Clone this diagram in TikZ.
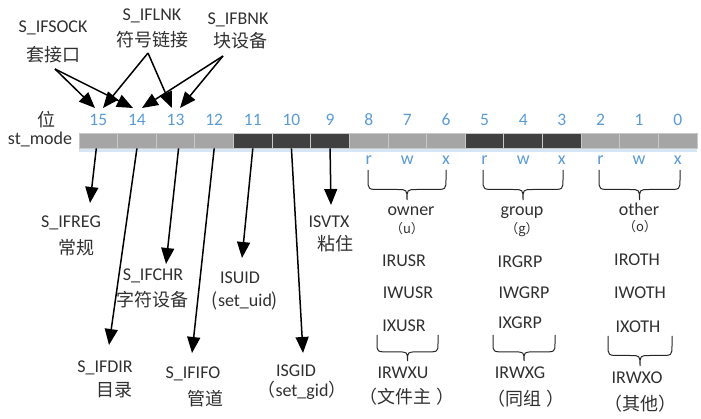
\documentclass[tikz,border=0pt]{standalone}
\usepackage{fontspec}
\setmainfont{Carlito}
\newfontfamily\cjk{Noto Sans CJK SC}
\usetikzlibrary{arrows.meta,calc}
\definecolor{txt}{HTML}{303030}
\definecolor{numblue}{HTML}{5B9BD5}
\definecolor{cellgray}{HTML}{A5A5A5}
\definecolor{celldark}{HTML}{404040}
\definecolor{cellline}{HTML}{C8C8C8}
\definecolor{strip}{HTML}{D6E6F5}
\newcommand\permbrace[4]{%
  \pgfmathsetmacro\pbA{#3+0.3*(#4-#3)}%
  \pgfmathsetmacro\pbB{#3+0.65*(#4-#3)}%
  \pgfmathsetmacro\pbM{(#1+#2)/2}%
  \draw[brc] (#1,#3) -- (#1,\pbA) .. controls (#1,\pbB) .. ({#1+12},\pbB) -- ({\pbM-10},\pbB) .. controls (\pbM,\pbB) .. (\pbM,#4) .. controls (\pbM,\pbB) .. ({\pbM+10},\pbB) -- ({#2-12},\pbB) .. controls (#2,\pbB) .. (#2,\pbA) -- (#2,#3);%
}
\begin{document}
\begin{tikzpicture}[x=1pt,y=-1pt,
  lbl/.style={anchor=base, inner sep=0pt, font=\fontsize{18}{18}\selectfont, text=txt},
  zh/.style={lbl, font=\fontsize{18}{18}\selectfont\cjk},
  smallzh/.style={lbl, font=\fontsize{13}{13}\selectfont\cjk},
  num/.style={lbl, text=numblue, font=\fontsize{17.5}{17.5}\selectfont},
  cellbox/.style={draw=cellline, line width=0.8pt, minimum width=38.625pt, minimum height=15pt, inner sep=0pt},
  arr/.style={line width=1.5pt, black, -{Triangle[length=16pt,width=13pt]}},
  brc/.style={line width=1pt, black!85}]
\useasboundingbox (0,0) rectangle (701,419);

% bar
\fill[strip] (79,148) rectangle (697,152.5);
\foreach \b/\col in {15/cellgray,14/cellgray,13/cellgray,12/cellgray,11/celldark,10/celldark,9/celldark,8/cellgray,7/cellgray,6/cellgray,5/celldark,4/celldark,3/celldark,2/cellgray,1/cellgray,0/cellgray}{
  \pgfmathsetmacro\cx{79+(15-\b+0.5)*38.625}
  \node[cellbox, fill=\col] (c\b) at (\cx,140.5) {};
  \node[num] (n\b) at (\cx,126) {\b};
}
\foreach \b/\l in {8/r,7/w,6/x,5/r,4/w,3/x,2/r,1/w,0/x}{
  \pgfmathsetmacro\cx{79+(15-\b+0.5)*38.625}
  \node[num, font=\fontsize{18}{18}\selectfont] (p\b) at (\cx,165) {\l};
}
\node[zh] (wei) at (46,127) {位};
\node[lbl] (stmode) at (40,145) {st\_mode};

% top labels
\node[lbl] (sock) at (53,33) {S\_IFSOCK};
\node[zh] (sockzh) at (53,62) {套接口};
\node[lbl] (lnk) at (152,21) {S\_IFLNK};
\node[zh] (lnkzh) at (152,47) {符号链接};
\node[lbl] (blk) at (238,25) {S\_IFBNK};
\node[zh] (blkzh) at (240,48) {块设备};

\coordinate (sockout) at (55,69);
\coordinate (lnkout) at (148,53);
\coordinate (blkout) at (223,56);
\coordinate (t15a) at (95,108);
\coordinate (t14a) at (133,108);
\coordinate (t15b) at (103,108);
\coordinate (t13b) at (172,108);
\coordinate (t14c) at (142,108);
\coordinate (t13c) at (180,108);
\draw[arr] (sockout) -- (t15a);
\draw[arr] (sockout) -- (t14a);
\draw[arr] (lnkout) -- (t15b);
\draw[arr] (lnkout) -- (t13b);
\draw[arr] (blkout) -- (t14c);
\draw[arr] (blkout) -- (t13c);

% bottom labels
\node[lbl] (ifreg) at (71,228) {S\_IFREG};
\node[zh] (ifregzh) at (76,255) {常规};
\node[lbl] (ifchr) at (153,281) {S\_IFCHR};
\node[zh] (ifchrzh) at (152,307) {字符设备};
\node[lbl] (ifdir) at (105,372) {S\_IFDIR};
\node[zh] (ifdirzh) at (114,396) {目录};
\node[lbl] (ififo) at (193,378) {S\_IFIFO};
\node[zh] (ififozh) at (205,405) {管道};
\node[lbl] (isuid) at (240,284) {ISUID};
\node[lbl] (setuid) at (245,307) {{\cjk (}set\_uid{\cjk )}};
\node[lbl] (isgid) at (296,376) {ISGID};
\node[lbl] (setgid) at (302,396) {{\cjk （}set\_gid{\cjk ）}};
\node[lbl] (isvtx) at (329,228) {ISVTX};
\node[zh] (isvtxzh) at (335,251) {粘住};

\coordinate (e15) at (90,203);
\coordinate (e14) at (109,345);
\coordinate (e13) at (166,264);
\coordinate (e12) at (192,353);
\coordinate (e11) at (242,258);
\coordinate (e10) at (303,353);
\coordinate (e9) at (331,205);
\draw[arr] ([xshift=-2pt]c15.south) -- (e15);
\draw[arr] (c14.south) -- (e14);
\draw[arr] ([xshift=3pt]c13.south) -- (e13);
\draw[arr] (c12.south) -- (e12);
\draw[arr] (c11.south) -- (e11);
\draw[arr] (c10.south) -- (e10);
\draw[arr] (c9.south) -- (e9);

% permission groups
\permbrace{368}{446}{170}{200}
\permbrace{483}{563}{170}{200}
\permbrace{599}{680}{170}{200}
\node[lbl] (owner) at (411,216) {owner};
\node[smallzh] (u) at (407,234) {（u）};
\node[lbl] (group) at (522,216) {group};
\node[smallzh] (g) at (522,234) {（g）};
\node[lbl] (other) at (639,216) {other};
\node[smallzh] (o) at (640,232) {（o）};

\node[lbl] (irusr) at (404,267) {IRUSR};
\node[lbl] (iwusr) at (408,299) {IWUSR};
\node[lbl] (ixusr) at (404,331) {IXUSR};
\node[lbl] (irgrp) at (520,268) {IRGRP};
\node[lbl] (iwgrp) at (524,299) {IWGRP};
\node[lbl] (ixgrp) at (520,329) {IXGRP};
\node[lbl] (iroth) at (637,266) {IROTH};
\node[lbl] (iwoth) at (640,299) {IWOTH};
\node[lbl] (ixoth) at (638,333) {IXOTH};

\permbrace{377}{438}{335}{361}
\permbrace{493}{555}{335}{361}
\permbrace{608}{672}{336}{366}
\node[lbl] (irwxu) at (403,378) {IRWXU};
\node[zh] (irwxuzh) at (407,403) {（文件主 ）};
\node[lbl] (irwxg) at (520,378) {IRWXG};
\node[zh] (irwxgzh) at (526,405) {（同组 ）};
\node[lbl] (irwxo) at (637,383) {IRWXO};
\node[zh] (irwxozh) at (640,410) {（其他）};
\end{tikzpicture}
\end{document}
